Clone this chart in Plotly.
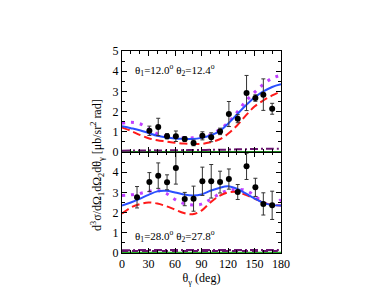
import plotly.graph_objects as go

# ---------------- data ----------------
# top panel (theta1=12.0, theta2=12.4)
top_theta = [31, 41, 51, 61, 71, 81, 91, 101, 111, 121, 131, 141, 151, 160, 170]
top_val   = [1.05, 1.24, 0.78, 0.78, 0.64, 0.45, 0.80, 0.73, 1.02, 1.88, 1.65, 2.92, 2.67, 2.84, 2.14]
top_err   = [0.23, 0.43, 0.13, 0.26, 0.12, 0.14, 0.20, 0.22, 0.16, 0.62, 0.20, 0.87, 0.16, 0.78, 0.27]

# bottom panel (theta1=28.0, theta2=27.8)
bot_theta = [17, 31, 41, 51, 61, 71, 81, 91, 101, 111, 121, 131, 141, 151, 160, 170]
bot_val   = [2.76, 3.51, 3.83, 3.50, 4.21, 2.67, 2.69, 3.55, 3.55, 3.51, 3.66, 3.02, 4.29, 3.25, 2.43, 2.36]
bot_err   = [0.53, 0.47, 0.63, 0.37, 0.80, 0.33, 0.62, 0.70, 0.83, 0.54, 0.50, 0.37, 0.65, 0.45, 0.55, 0.70]

curve_theta = [0, 10, 20, 30, 40, 50, 60, 70, 80, 90, 100, 110, 120, 130, 140, 150, 160, 170, 180]

top_blue    = [1.27, 1.18, 1.08, 0.94, 0.80, 0.72, 0.67, 0.65, 0.64, 0.70, 0.82, 1.02, 1.40, 1.85, 2.30, 2.70, 3.00, 3.22, 3.35]
top_red     = [1.22, 1.05, 0.85, 0.68, 0.58, 0.52, 0.46, 0.42, 0.40, 0.40, 0.48, 0.62, 0.90, 1.30, 1.80, 2.25, 2.55, 2.80, 3.00]
top_magenta = [1.42, 1.47, 1.40, 1.15, 0.90, 0.78, 0.72, 0.70, 0.70, 0.75, 0.85, 1.10, 1.45, 1.95, 2.50, 2.95, 3.35, 3.65, 3.80]
top_purple  = [0.06, 0.07, 0.07, 0.08, 0.08, 0.08, 0.09, 0.09, 0.10, 0.10, 0.11, 0.11, 0.12, 0.13, 0.14, 0.15, 0.16, 0.16, 0.17]
top_green   = [0.01] * 19

bot_blue    = [2.35, 2.50, 2.68, 2.88, 3.05, 3.08, 3.00, 2.90, 2.85, 2.90, 3.08, 3.22, 3.30, 3.18, 2.95, 2.70, 2.48, 2.37, 2.35]
bot_red     = [1.95, 2.25, 2.42, 2.50, 2.45, 2.32, 2.15, 1.98, 1.92, 2.10, 2.50, 2.82, 3.00, 3.02, 2.88, 2.70, 2.50, 2.38, 2.35]
bot_magenta = [2.85, 2.88, 2.95, 3.05, 3.10, 2.95, 2.65, 2.45, 2.38, 2.42, 2.65, 2.92, 3.10, 3.15, 3.10, 2.85, 2.50, 2.35, 2.65]
bot_purple  = [0.14, 0.14, 0.15, 0.15, 0.15, 0.15, 0.15, 0.15, 0.15, 0.15, 0.15, 0.15, 0.15, 0.15, 0.15, 0.15, 0.15, 0.15, 0.15]
bot_purple2 = [0.10, 0.10, 0.10, 0.10, 0.10, 0.10, 0.10, 0.10, 0.10, 0.10, 0.10, 0.10, 0.10, 0.10, 0.10, 0.10, 0.10, 0.10, 0.10]
bot_green   = [0.03] * 19

x_ticks = [0, 30, 60, 90, 120, 150, 180]
top_yticks = [0, 1, 2, 3, 4, 5]
bot_yticks = [0, 1, 2, 3, 4]

BLUE = "#2a4fff"
RED = "#ff1a1a"
MAG = "#c040ff"
PURP = "#6a1470"
GREEN = "#22aa22"

SERIF = "'Times New Roman', 'Liberation Serif', 'DejaVu Serif', serif"

fig = go.Figure()

def add_panel(xa, ya, blue, red, mag, purp, green, th, val, err, purp2=None):
    fig.add_trace(go.Scatter(x=curve_theta, y=green, mode="lines", line=dict(color=GREEN, width=1.2),
                             xaxis=xa, yaxis=ya, line_shape="spline", hoverinfo="skip"))
    fig.add_trace(go.Scatter(x=curve_theta, y=purp, mode="lines", line=dict(color=PURP, width=2, dash="8px,3px,2px,3px"),
                             xaxis=xa, yaxis=ya, line_shape="spline"))
    if purp2 is not None:
        fig.add_trace(go.Scatter(x=curve_theta, y=purp2, mode="lines", line=dict(color=PURP, width=2, dash="6px,4px"),
                                 xaxis=xa, yaxis=ya, line_shape="spline"))
    fig.add_trace(go.Scatter(x=curve_theta, y=mag, mode="lines", line=dict(color=MAG, width=3, dash="3px,6px"),
                             xaxis=xa, yaxis=ya, line_shape="spline"))
    fig.add_trace(go.Scatter(x=curve_theta, y=red, mode="lines", line=dict(color=RED, width=2, dash="8px,4px"),
                             xaxis=xa, yaxis=ya, line_shape="spline"))
    fig.add_trace(go.Scatter(x=curve_theta, y=blue, mode="lines", line=dict(color=BLUE, width=2),
                             xaxis=xa, yaxis=ya, line_shape="spline"))
    fig.add_trace(go.Scatter(x=th, y=val, mode="markers", marker=dict(color="black", size=6),
                             error_y=dict(type="data", array=err, color="#333333", thickness=1, width=2),
                             xaxis=xa, yaxis=ya))

add_panel("x2", "y2", top_blue, top_red, top_magenta, top_purple, top_green, top_theta, top_val, top_err)
add_panel("x", "y", bot_blue, bot_red, bot_magenta, bot_purple, bot_green, bot_theta, bot_val, bot_err, bot_purple2)

font = dict(family=SERIF, size=12, color="black")
axis_common = dict(showline=True, linecolor="black", linewidth=1, mirror="allticks", ticks="inside",
                   ticklen=5, tickcolor="black", showgrid=False, zeroline=False, tickfont=font)

fig.update_layout(
    width=374, height=289,
    margin=dict(l=114, r=101, t=43, b=44),
    paper_bgcolor="white", plot_bgcolor="white",
    showlegend=False,
    font=font,
    xaxis=dict(range=[0, 180], tickvals=x_ticks, anchor="y", domain=[0, 1],
               title=dict(text="θ<sub>γ</sub> (deg)", standoff=2, font=dict(family=SERIF, size=12, color="black")),
               minor=dict(dtick=10, ticklen=3, ticks="inside", tickcolor="black"), **axis_common),
    xaxis2=dict(range=[0, 180], tickvals=x_ticks, anchor="y2", matches="x", showticklabels=False,
                minor=dict(dtick=10, ticklen=3, ticks="inside", tickcolor="black"), **axis_common),
    yaxis=dict(range=[0, 5], tickvals=bot_yticks, domain=[0, 0.5], anchor="x",
               minor=dict(dtick=0.5, ticklen=3, ticks="inside", tickcolor="black"), **axis_common),
    yaxis2=dict(range=[0, 5], tickvals=top_yticks, domain=[0.5, 1], anchor="x2",
                minor=dict(dtick=0.5, ticklen=3, ticks="inside", tickcolor="black"), **axis_common),
)

ann_font = dict(family=SERIF, size=11, color="black")
fig.add_annotation(text="θ<sub>1</sub>=12.0<sup>o</sup> θ<sub>2</sub>=12.4<sup>o</sup>",
                   x=12, y=4.05, xref="x2", yref="y2", xanchor="left", yanchor="middle",
                   showarrow=False, font=ann_font)
fig.add_annotation(text="θ<sub>1</sub>=28.0<sup>o</sup> θ<sub>2</sub>=27.8<sup>o</sup>",
                   x=13, y=0.85, xref="x", yref="y", xanchor="left", yanchor="middle",
                   showarrow=False, font=ann_font)
fig.add_annotation(text="d<sup>3</sup>σ/dΩ<sub>1</sub>dΩ<sub>2</sub>dθ<sub>γ</sub> [μb/sr<sup>2</sup> rad]",
                   x=-0.151, y=0.436, xref="paper", yref="paper", textangle=-90,
                   xanchor="center", yanchor="middle", showarrow=False, font=dict(family=SERIF, size=12, color="black"))

fig.write_html("out.html")
